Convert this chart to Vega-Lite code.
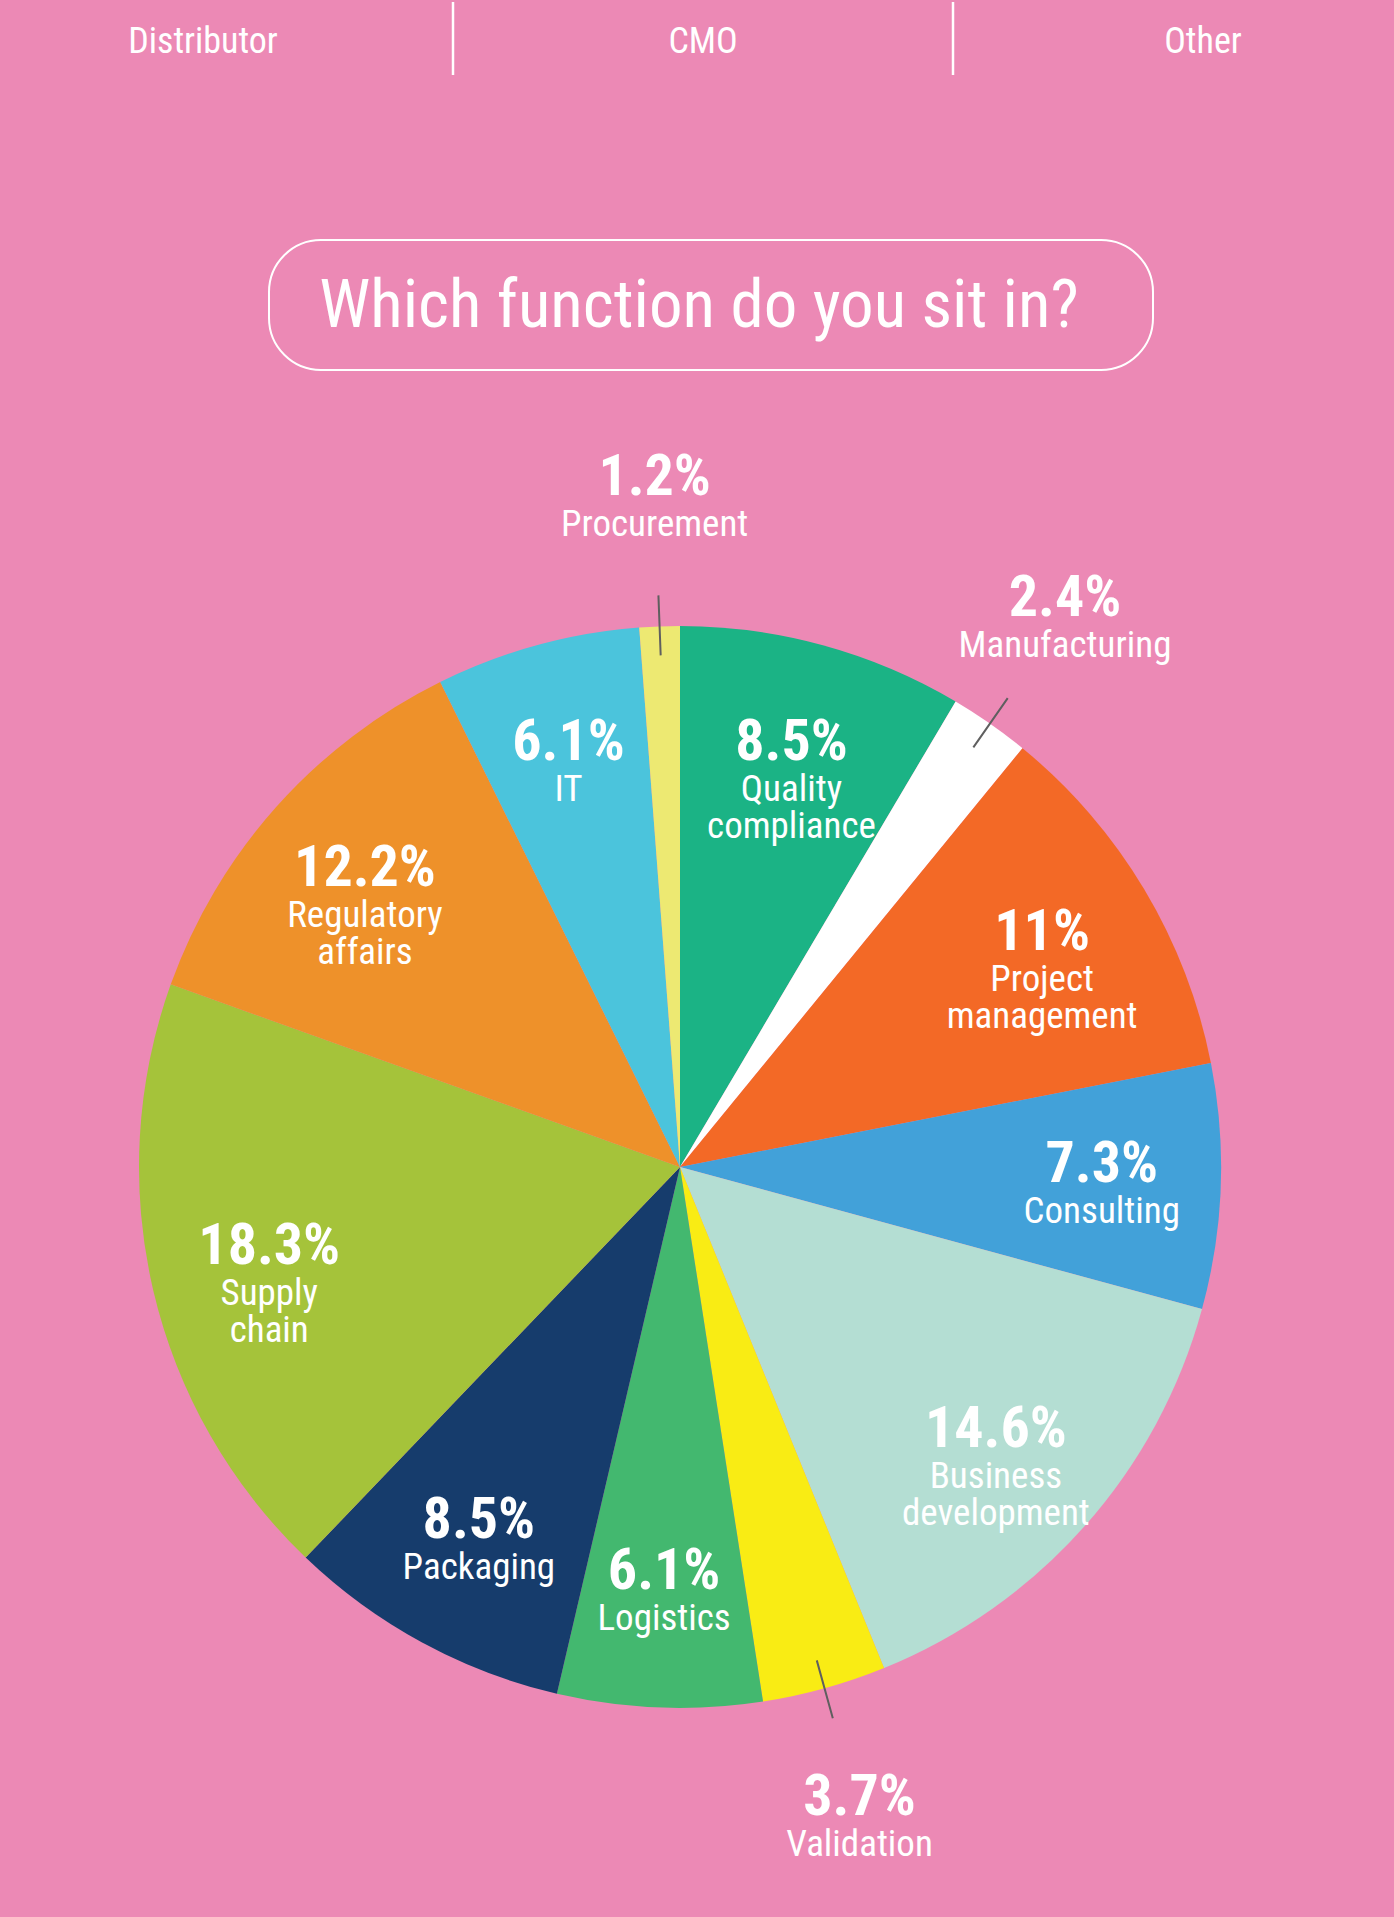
{
  "$schema": "https://vega.github.io/schema/vega-lite/v6.json",
  "background": "#EC89B5",
  "padding": {"left": 0, "top": 0, "right": 0, "bottom": 200},
  "bounds": "flush",
  "spacing": 165,
  "config": {"view": {"stroke": null}, "font": "Roboto Condensed, Roboto, sans-serif"},
  "vconcat": [
    {
      "width": 1394,
      "height": 73,
      "data": {"values": [{"cat": "Distributor"}, {"cat": "CMO"}, {"cat": "Other"}]},
      "layer": [
        {
          "mark": {"type": "text", "color": "white", "fontSize": 36, "baseline": "middle", "dy": 3},
          "encoding": {
            "x": {"field": "cat", "type": "nominal", "scale": {"type": "band", "domain": ["Distributor", "CMO", "Other"], "range": [-47, 1453], "paddingInner": 0, "paddingOuter": 0}, "axis": null},
            "text": {"field": "cat"}
          }
        },
        {
          "transform": [{"filter": "datum.cat !== 'Distributor'"}],
          "mark": {"type": "rule", "color": "white", "strokeWidth": 2.5},
          "encoding": {
            "x": {"field": "cat", "type": "nominal", "bandPosition": 0, "scale": {"type": "band", "domain": ["Distributor", "CMO", "Other"], "range": [-47, 1453], "paddingInner": 0, "paddingOuter": 0}, "axis": null}
          }
        }
      ]
    },
    {
      "width": 1394,
      "height": 130,
      "data": {"values": [{"title": "Which function do you sit in?"}]},
      "encoding": {
        "x": {"field": "title", "type": "nominal", "scale": {"type": "band", "range": [269, 1153], "paddingInner": 0, "paddingOuter": 0}, "axis": null}
      },
      "layer": [
        {"mark": {"type": "rect", "cornerRadius": 52, "fill": "#EC89B5", "fillOpacity": 0, "stroke": "white", "strokeWidth": 2}},
        {
          "mark": {"type": "text", "color": "white", "fontSize": 67, "baseline": "middle", "dx": -12, "dy": 2},
          "encoding": {"text": {"field": "title"}}
        }
      ]
    },
    {
      "width": 1360,
      "height": 1264,
      "data": {
        "values": [
          {"idx": 1, "name": "Quality compliance", "value": 8.5},
          {"idx": 2, "name": "Manufacturing", "value": 2.4},
          {"idx": 3, "name": "Project management", "value": 11},
          {"idx": 4, "name": "Consulting", "value": 7.3},
          {"idx": 5, "name": "Business development", "value": 14.6},
          {"idx": 6, "name": "Validation", "value": 3.7},
          {"idx": 7, "name": "Logistics", "value": 6.1},
          {"idx": 8, "name": "Packaging", "value": 8.5},
          {"idx": 9, "name": "Supply chain", "value": 18.3},
          {"idx": 10, "name": "Regulatory affairs", "value": 12.2},
          {"idx": 11, "name": "IT", "value": 6.1},
          {"idx": 12, "name": "Procurement", "value": 1.2}
        ]
      },
      "transform": [{"calculate": "datum.value + '%'", "as": "pct"}],
      "encoding": {
        "theta": {"field": "value", "type": "quantitative", "stack": true},
        "order": {"field": "idx", "type": "quantitative"}
      },
      "layer": [
        {
          "mark": {"type": "arc", "radius": 541},
          "encoding": {
            "color": {
              "field": "name",
              "type": "nominal",
              "legend": null,
              "scale": {
                "domain": ["Quality compliance", "Manufacturing", "Project management", "Consulting", "Business development", "Validation", "Logistics", "Packaging", "Supply chain", "Regulatory affairs", "IT", "Procurement"],
                "range": ["#1BB385", "#FFFFFF", "#F36926", "#42A1D9", "#B4DED3", "#F9EC14", "#43B86F", "#163C6C", "#A5C33A", "#EE912A", "#4BC4DC", "#EDE972"]
              }
            }
          }
        },
        {
          "mark": {"type": "arc", "radius": 572, "radius2": 512, "padAngle": 1, "filled": false, "stroke": "#5F5F5F", "strokeWidth": 2},
          "encoding": {
            "detail": {"field": "name"},
            "strokeOpacity": {"condition": {"test": "datum.value < 5", "value": 1}, "value": 0}
          }
        },
        {
          "mark": {"type": "text", "color": "white", "fontSize": 58, "fontWeight": "bold", "baseline": "alphabetic", "radius": {"expr": "datum.value < 5 ? 672 : 422"}},
          "encoding": {
            "text": {"field": "pct"},
            "detail": {"field": "name"}
          }
        },
        {
          "mark": {"type": "text", "color": "white", "fontSize": 37, "baseline": "alphabetic", "dy": 41, "lineBreak": " ", "lineHeight": 37, "radius": {"expr": "datum.value < 5 ? 672 : 422"}},
          "encoding": {
            "text": {"field": "name"},
            "detail": {"field": "name"}
          }
        }
      ]
    }
  ]
}
